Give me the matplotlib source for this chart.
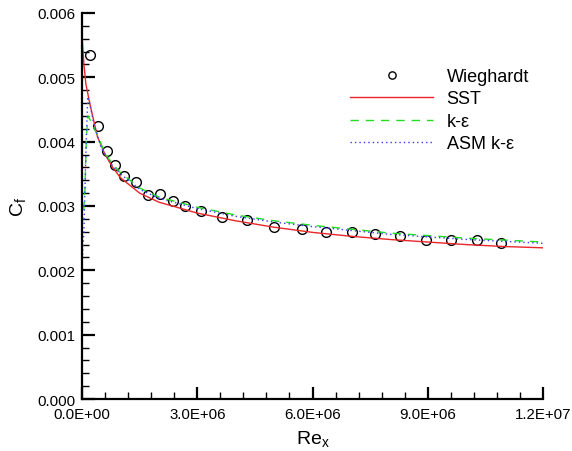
import matplotlib
matplotlib.use("Agg")
import matplotlib.pyplot as plt
from matplotlib.ticker import MultipleLocator, FuncFormatter
import numpy as np

plt.rcParams['font.family'] = ['Liberation Sans', 'DejaVu Sans']

# Wieghardt experimental data
wieg_re = [0.21e6, 0.425e6, 0.66e6, 0.87e6, 1.09e6, 1.40e6, 1.71e6, 2.04e6, 2.36e6,
           2.67e6, 3.11e6, 3.65e6, 4.30e6, 5.00e6, 5.72e6, 6.36e6, 7.02e6, 7.63e6,
           8.28e6, 8.95e6, 9.61e6, 10.28e6, 10.91e6]
wieg_cf = [5.35e-3, 4.24e-3, 3.86e-3, 3.64e-3, 3.46e-3, 3.37e-3, 3.17e-3, 3.18e-3, 3.08e-3,
           3.00e-3, 2.93e-3, 2.83e-3, 2.78e-3, 2.68e-3, 2.65e-3, 2.60e-3, 2.60e-3, 2.56e-3,
           2.53e-3, 2.47e-3, 2.47e-3, 2.47e-3, 2.43e-3]

# SST
sst_re = [0.0, 0.05e6, 0.1e6, 0.2e6, 0.4e6, 0.6e6, 0.8e6, 1.0e6, 1.5e6, 2.0e6, 3.0e6,
          4.0e6, 5.0e6, 6.0e6, 7.0e6, 8.0e6, 9.0e6, 10.0e6, 11.0e6, 12.0e6]
sst_cf = [5.65e-3, 5.20e-3, 4.90e-3, 4.60e-3, 4.08e-3, 3.80e-3, 3.60e-3, 3.44e-3, 3.20e-3,
          3.06e-3, 2.89e-3, 2.77e-3, 2.67e-3, 2.59e-3, 2.53e-3, 2.48e-3, 2.44e-3, 2.40e-3,
          2.37e-3, 2.35e-3]

# k-epsilon
ke_re = [0.0, 0.04e6, 0.08e6, 0.11e6, 0.15e6, 0.25e6, 0.4e6, 0.6e6, 0.8e6, 1.0e6, 1.5e6,
         2.0e6, 3.0e6, 4.0e6, 5.0e6, 6.0e6, 7.0e6, 8.0e6, 9.0e6, 10.0e6, 11.0e6, 12.0e6]
ke_cf = [2.70e-3, 2.90e-3, 3.30e-3, 4.00e-3, 4.40e-3, 4.30e-3, 4.10e-3, 3.82e-3, 3.65e-3,
         3.52e-3, 3.28e-3, 3.14e-3, 2.98e-3, 2.86e-3, 2.77e-3, 2.70e-3, 2.64e-3, 2.58e-3,
         2.54e-3, 2.50e-3, 2.47e-3, 2.44e-3]

# ASM k-epsilon
asm_re = [0.0, 0.05e6, 0.1e6, 0.15e6, 0.2e6, 0.3e6, 0.5e6, 0.8e6, 1.0e6, 1.5e6, 2.0e6,
          3.0e6, 4.0e6, 5.0e6, 6.0e6, 7.0e6, 8.0e6, 9.0e6, 10.0e6, 11.0e6, 12.0e6]
asm_cf = [2.10e-3, 2.60e-3, 3.80e-3, 4.70e-3, 4.60e-3, 4.30e-3, 3.90e-3, 3.62e-3, 3.50e-3,
          3.26e-3, 3.12e-3, 2.96e-3, 2.84e-3, 2.75e-3, 2.68e-3, 2.62e-3, 2.56e-3, 2.52e-3,
          2.48e-3, 2.45e-3, 2.42e-3]

fig = plt.figure(figsize=(5.72, 4.52), dpi=100)
ax = fig.add_axes([82/572, 1 - 400/452, (543 - 82)/572, (400 - 14)/452])

ax.plot(wieg_re, wieg_cf, linestyle='none', marker='o', markersize=7,
        markerfacecolor='none', markeredgecolor='black', markeredgewidth=1.0,
        label='Wieghardt')
ax.plot(sst_re, sst_cf, color='#e8262b', linewidth=1.0, label='SST')
ax.plot(ke_re, ke_cf, color='#22dd22', linewidth=1.0, dashes=(6, 5), label='k-ε')
ax.plot(asm_re, asm_cf, color='#3a3aff', linewidth=1.0, dashes=(1, 2.2), label='ASM k-ε')

ax.set_xlim(0, 1.2e7)
ax.set_ylim(0, 0.006)

for s in ['top', 'right']:
    ax.spines[s].set_visible(False)
for s in ['left', 'bottom']:
    ax.spines[s].set_linewidth(1.6)
    ax.spines[s].set_color('black')

ax.xaxis.set_major_locator(MultipleLocator(3e6))
ax.xaxis.set_minor_locator(MultipleLocator(6e5))
ax.yaxis.set_major_locator(MultipleLocator(0.001))
ax.yaxis.set_minor_locator(MultipleLocator(0.0002))

ax.xaxis.set_major_formatter(FuncFormatter(lambda v, p: '%.1E' % v))
ax.yaxis.set_major_formatter(FuncFormatter(lambda v, p: '%.3f' % v))

ax.tick_params(which='major', direction='in', length=9, width=1.6, labelsize=10.8,
               colors='black')
ax.tick_params(axis='x', which='major', pad=6)
ax.tick_params(axis='y', which='major', pad=5)
ax.tick_params(which='minor', direction='in', length=5, width=1.0)

ax.set_xlabel('Re$_\\mathregular{x}$', fontsize=14, labelpad=5)
ax.set_ylabel('C$_\\mathregular{f}$', fontsize=14, labelpad=6)

leg = fig.legend(loc='upper left', bbox_to_anchor=(350/572, 1 - 69/452),
                 bbox_transform=fig.transFigure, frameon=False, fontsize=13,
                 handlelength=4.6, handletextpad=0.75, labelspacing=0.3,
                 borderpad=0, borderaxespad=0, markerscale=0.75)

fig.savefig('out.png', dpi=100)
